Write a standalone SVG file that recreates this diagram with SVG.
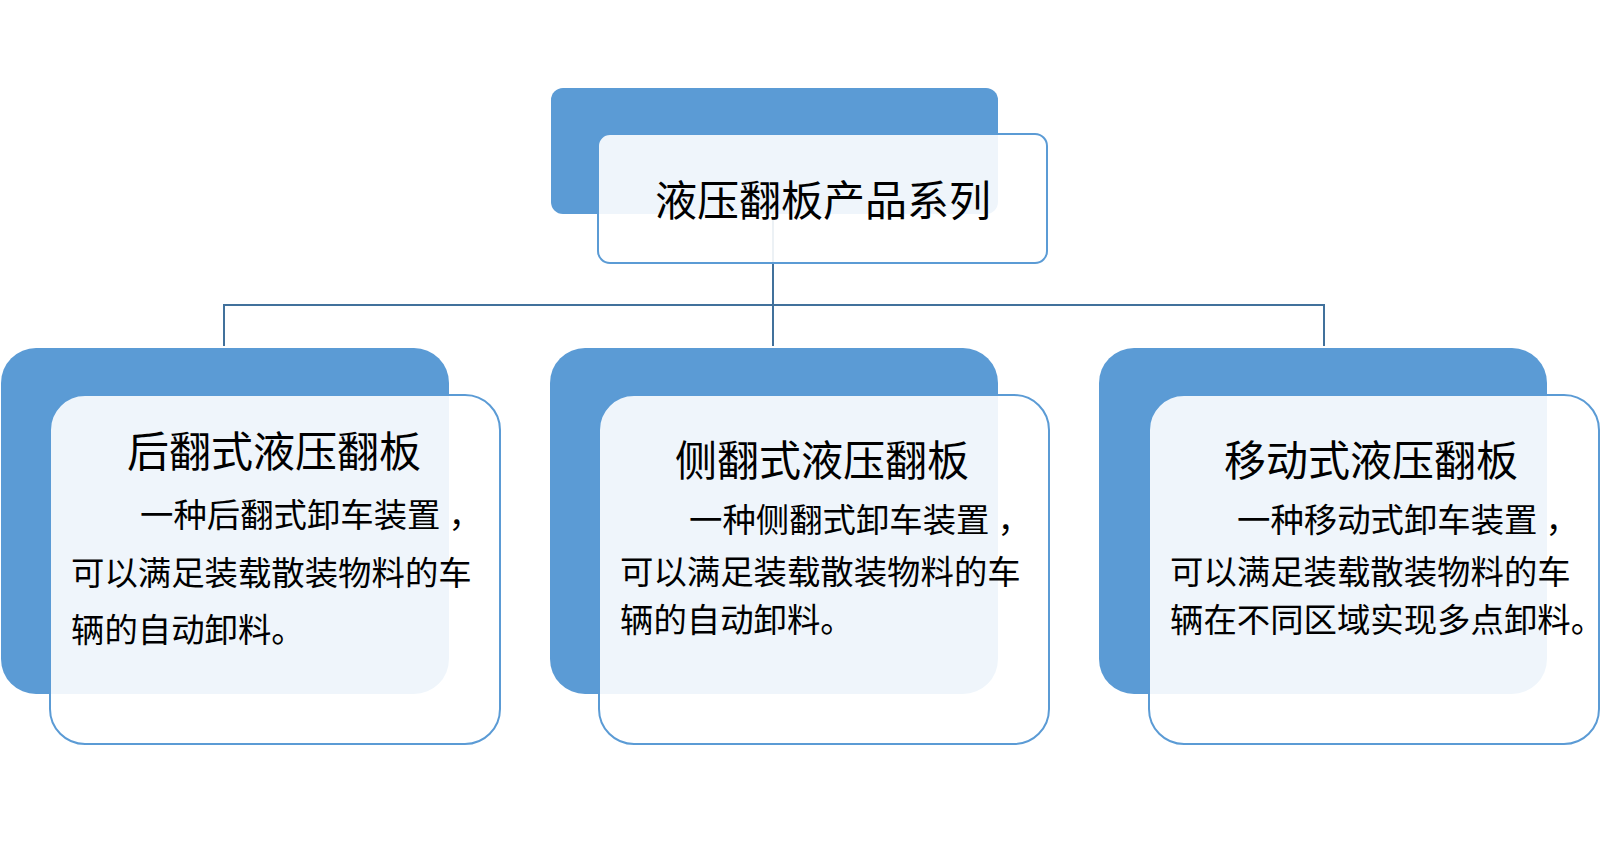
<svg xmlns="http://www.w3.org/2000/svg" width="1608" height="843" viewBox="0 0 1608 843">
<style>
.back{fill:#5B9BD5;}
.front{fill:#FFFFFF;fill-opacity:0.9;stroke:#5B9BD5;stroke-width:2;}
.conn{fill:none;stroke:#41719C;stroke-width:2;}
.title{font-family:"Noto Sans CJK SC","Microsoft YaHei",sans-serif;font-size:42px;fill:#000;}
.body{font-family:"Noto Sans CJK SC","Microsoft YaHei",sans-serif;font-size:33.4px;fill:#000;}
</style>
<rect width="1608" height="843" fill="#FFFFFF"/>
<g id="connectors">
<path class="conn" d="M773,214 V305 M224,346 V305 H1324 V346 M773,305 V346"/>
</g>
<g id="root">
<rect class="back" x="551" y="88" width="447" height="126" rx="12"/>
<rect class="front" x="598" y="134" width="449" height="129" rx="12"/>
<text class="title" x="655" y="216">液压翻板产品系列</text>
</g>
<g id="rear-flip">
<rect class="back" x="1" y="348" width="448" height="346" rx="35"/>
<rect class="front" x="50" y="395" width="450" height="349" rx="35"/>
<text class="title" x="127" y="467">后翻式液压翻板</text>
<text class="body" x="140" y="527">一种后翻式卸车装置<tspan dx="8">，</tspan></text>
<text class="body" x="71" y="585">可以满足装载散装物料的车</text>
<text class="body" x="71" y="642">辆的自动卸料。</text>
</g>
<g id="side-flip">
<rect class="back" x="550" y="348" width="448" height="346" rx="35"/>
<rect class="front" x="599" y="395" width="450" height="349" rx="35"/>
<text class="title" x="675" y="476">侧翻式液压翻板</text>
<text class="body" x="689" y="532">一种侧翻式卸车装置<tspan dx="8">，</tspan></text>
<text class="body" x="620" y="584">可以满足装载散装物料的车</text>
<text class="body" x="620" y="632">辆的自动卸料。</text>
</g>
<g id="mobile">
<rect class="back" x="1099" y="348" width="448" height="346" rx="35"/>
<rect class="front" x="1149" y="395" width="450" height="349" rx="35"/>
<text class="title" x="1224" y="476">移动式液压翻板</text>
<text class="body" x="1237" y="532">一种移动式卸车装置<tspan dx="8">，</tspan></text>
<text class="body" x="1170" y="584">可以满足装载散装物料的车</text>
<text class="body" x="1170" y="632">辆在不同区域实现多点卸料。</text>
</g>
</svg>
